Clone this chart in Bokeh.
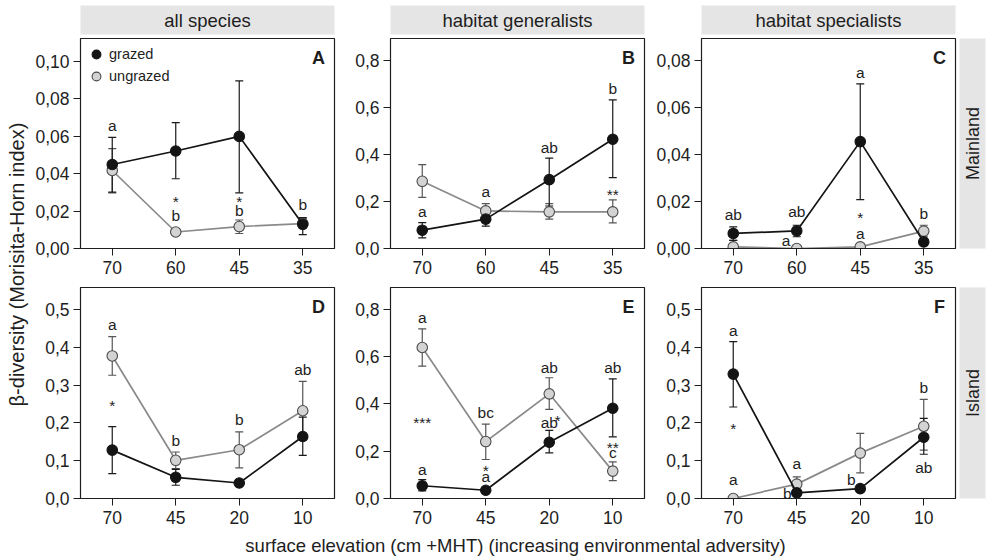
import math
from bokeh.plotting import figure
from bokeh.layouts import row, column
from bokeh.models import (ColumnDataSource, Range1d, FixedTicker, Whisker, TeeHead,
                          Label, Legend, LegendItem)
from bokeh.core.properties import value
from bokeh.embed import file_html
from bokeh.resources import INLINE

FONT = "Liberation Sans"
TXT = "#1e1e1e"
STRIP = "#e5e5e5"

# ---------------- data ----------------
positions = [1, 2, 3, 4]
mainland_elev = ["70", "60", "45", "35"]
island_elev = ["70", "45", "20", "10"]

col_titles = ["all species", "habitat generalists", "habitat specialists"]
row_titles = ["Mainland", "Island"]

# y ticks / labels per panel
A_ticks = [0.0, 0.02, 0.04, 0.06, 0.08, 0.10]
A_tlab = ["0,00", "0,02", "0,04", "0,06", "0,08", "0,10"]
B_ticks = [0.0, 0.2, 0.4, 0.6, 0.8]
B_tlab = ["0,0", "0,2", "0,4", "0,6", "0,8"]
C_ticks = [0.0, 0.02, 0.04, 0.06, 0.08]
C_tlab = ["0,00", "0,02", "0,04", "0,06", "0,08"]
D_ticks = [0.0, 0.1, 0.2, 0.3, 0.4, 0.5]
D_tlab = ["0,0", "0,1", "0,2", "0,3", "0,4", "0,5"]
E_ticks = [0.0, 0.2, 0.4, 0.6, 0.8]
E_tlab = ["0,0", "0,2", "0,4", "0,6", "0,8"]
F_ticks = [0.0, 0.1, 0.2, 0.3, 0.4, 0.5]
F_tlab = ["0,0", "0,1", "0,2", "0,3", "0,4", "0,5"]

# Panel A - all species, mainland
A_g = [0.0448, 0.0520, 0.0598, 0.0129]
A_g_lo = [0.0301, 0.0372, 0.0297, 0.0074]
A_g_hi = [0.0593, 0.0671, 0.0894, 0.0165]
A_u = [0.0416, 0.0088, 0.0117, 0.0133]
A_u_lo = [0.0297, 0.0078, 0.0080, 0.0110]
A_u_hi = [0.0533, 0.0098, 0.0152, 0.0160]
A_ann_x = [1, 2, 2, 3, 3, 4]
A_ann_y = [0.0655, 0.0274, 0.0177, 0.0271, 0.0204, 0.0235]
A_ann_t = ["a", "*", "b", "*", "b", "b"]

# Panel B - habitat generalists, mainland
B_g = [0.078, 0.125, 0.293, 0.465]
B_g_lo = [0.045, 0.095, 0.181, 0.302]
B_g_hi = [0.110, 0.155, 0.385, 0.633]
B_u = [0.286, 0.160, 0.156, 0.156]
B_u_lo = [0.218, 0.127, 0.125, 0.109]
B_u_hi = [0.357, 0.191, 0.191, 0.207]
B_ann_x = [1, 2, 3, 4, 4]
B_ann_y = [0.159, 0.241, 0.432, 0.683, 0.248]
B_ann_t = ["a", "a", "ab", "b", "**"]

# Panel C - habitat specialists, mainland
C_g = [0.0064, 0.0075, 0.0455, 0.0028]
C_g_lo = [0.0035, 0.0050, 0.0208, 0.0015]
C_g_hi = [0.0092, 0.0099, 0.0701, 0.0040]
C_u = [0.0007, 0.0000, 0.0007, 0.0074]
C_u_lo = [0.0000, 0.0000, 0.0000, 0.0050]
C_u_hi = [0.0035, 0.0005, 0.0015, 0.0099]
C_ann_x = [1, 2, 1.83, 3, 3, 3, 4]
C_ann_y = [0.0144, 0.0159, 0.0035, 0.0750, 0.0149, 0.0064, 0.0149]
C_ann_t = ["ab", "ab", "a", "a", "*", "a", "b"]

# Panel D - all species, island
D_g = [0.128, 0.056, 0.041, 0.164]
D_g_lo = [0.066, 0.035, 0.035, 0.114]
D_g_hi = [0.190, 0.077, 0.047, 0.215]
D_u = [0.377, 0.101, 0.129, 0.232]
D_u_lo = [0.326, 0.079, 0.081, 0.154]
D_u_hi = [0.428, 0.123, 0.176, 0.310]
D_ann_x = [1, 1, 2, 3, 4]
D_ann_y = [0.459, 0.256, 0.154, 0.209, 0.340]
D_ann_t = ["a", "*", "b", "b", "ab"]

# Panel E - habitat generalists, island
E_g = [0.054, 0.035, 0.238, 0.382]
E_g_lo = [0.032, 0.025, 0.193, 0.261]
E_g_hi = [0.080, 0.045, 0.288, 0.506]
E_u = [0.639, 0.241, 0.443, 0.116]
E_u_lo = [0.560, 0.165, 0.377, 0.076]
E_u_hi = [0.718, 0.315, 0.511, 0.155]
E_ann_x = [1, 1, 1, 2, 2, 2, 3, 3, 3.13, 4, 4, 4]
E_ann_y = [0.766, 0.339, 0.124, 0.362, 0.135, 0.091, 0.554, 0.320, 0.346, 0.554, 0.233, 0.193]
E_ann_t = ["a", "***", "a", "bc", "*", "a", "ab", "ab", "*", "ab", "**", "c"]

# Panel F - habitat specialists, island
F_g = [0.329, 0.015, 0.026, 0.162]
F_g_lo = [0.242, 0.008, 0.020, 0.117]
F_g_hi = [0.415, 0.022, 0.032, 0.212]
F_u = [0.000, 0.038, 0.120, 0.191]
F_u_lo = [0.000, 0.022, 0.068, 0.128]
F_u_hi = [0.000, 0.057, 0.172, 0.262]
F_ann_x = [1, 1, 1, 2, 1.85, 2.86, 4, 4]
F_ann_y = [0.445, 0.197, 0.051, 0.093, 0.013, 0.049, 0.294, 0.082]
F_ann_t = ["a", "*", "a", "a", "b", "b", "b", "ab"]

y_tops = {"A": 0.112, "B": 0.894, "C": 0.0894, "D": 0.558, "E": 0.893, "F": 0.558}

# ---------------- layout geometry ----------------
FW = 254
COL_BORDERS = [(50, 16), (40, 9), (48, 2)]
ROW1 = dict(top=1, h=210, bottom=35)
ROW2 = dict(top=4, h=211, bottom=34)
XLAB_H = 560 - (37 + 1 + 210 + 35 + 4 + 211 + 34)


def style_axis(ax):
    ax.major_tick_out = 7
    ax.major_tick_in = 0
    ax.minor_tick_out = 0
    ax.minor_tick_in = 0
    ax.axis_line_color = TXT
    ax.major_tick_line_color = TXT
    ax.major_label_text_font = FONT
    ax.major_label_text_font_size = "17.5px"
    ax.major_label_text_color = TXT
    ax.major_label_standoff = 5


def make_panel(letter, col, rowgeom, xlabels, yticks, ylabels,
               g, glo, ghi, u, ulo, uhi, ax_, ay_, at_, legend=False):
    left, right = COL_BORDERS[col]
    ytop = y_tops[letter]
    p = figure(frame_width=FW, frame_height=rowgeom["h"],
               min_border_left=left, min_border_right=right,
               min_border_top=rowgeom["top"], min_border_bottom=rowgeom["bottom"],
               x_range=Range1d(0.5, 4.5), y_range=Range1d(0, ytop),
               toolbar_location=None, output_backend="svg")
    p.xgrid.visible = False
    p.ygrid.visible = False
    p.outline_line_color = TXT
    p.outline_line_width = 1.2
    p.background_fill_color = "white"
    p.border_fill_color = "white"

    p.xaxis.ticker = FixedTicker(ticks=positions)
    p.xaxis.major_label_overrides = {k: v for k, v in zip(positions, xlabels)}
    p.yaxis.ticker = FixedTicker(ticks=yticks)
    p.yaxis.major_label_overrides = {k: v for k, v in zip(yticks, ylabels)}
    style_axis(p.xaxis[0])
    style_axis(p.yaxis[0])
    p.yaxis[0].major_label_standoff = 4

    su = ColumnDataSource(dict(x=positions, y=u, lo=ulo, hi=uhi))
    sg = ColumnDataSource(dict(x=positions, y=g, lo=glo, hi=ghi))

    for src, col_ in ((su, "#555555"), (sg, "#1a1a1a")):
        w = Whisker(source=src, base="x", upper="hi", lower="lo",
                    line_color=col_, line_width=1.2, level="underlay")
        w.upper_head = TeeHead(size=8, line_color=col_, line_width=1.2)
        w.lower_head = TeeHead(size=8, line_color=col_, line_width=1.2)
        p.add_layout(w)

    p.line("x", "y", source=su, line_color="#8a8a8a", line_width=1.7)
    ru = p.scatter("x", "y", source=su, size=10.5, fill_color="#d3d3d3",
                   line_color="#4a4a4a", line_width=1.1)
    p.line("x", "y", source=sg, line_color="#141414", line_width=1.7)
    rg = p.scatter("x", "y", source=sg, size=10.5, fill_color="#141414",
                   line_color="#141414", line_width=1.1)

    # significance / group letters
    letters = [(x, y, t) for x, y, t in zip(ax_, ay_, at_) if set(t) != {"*"}]
    stars = [(x, y, t) for x, y, t in zip(ax_, ay_, at_) if set(t) == {"*"}]
    if letters:
        sl = ColumnDataSource(dict(x=[a[0] for a in letters], y=[a[1] for a in letters],
                                   t=[a[2] for a in letters]))
        p.text("x", "y", text="t", source=sl, text_align="center", text_baseline="middle",
               text_font=value(FONT), text_font_size="15.5px", text_color=TXT)
    if stars:
        ss = ColumnDataSource(dict(x=[a[0] for a in stars], y=[a[1] for a in stars],
                                   t=[a[2] for a in stars]))
        p.text("x", "y", text="t", source=ss, text_align="center", text_baseline="middle",
               text_font=value(FONT), text_font_size="15.5px", text_color=TXT, y_offset=4)

    # panel letter (top right corner)
    px_per_x = FW / 4.0
    p.add_layout(Label(x=4.5 - 16 / px_per_x, y=ytop * (1 - 19 / rowgeom["h"]), text=letter,
                       text_align="center", text_baseline="middle", text_font=FONT,
                       text_font_size="18px", text_font_style="bold", text_color=TXT))

    if legend:
        lg = Legend(items=[LegendItem(label="grazed", renderers=[rg]),
                           LegendItem(label="ungrazed", renderers=[ru])],
                    location="top_left", border_line_color=None, background_fill_alpha=0,
                    label_text_font=FONT, label_text_font_size="14.5px", label_text_color=TXT,
                    glyph_width=22, glyph_height=22, label_height=17, label_standoff=2,
                    spacing=-5, padding=1, margin=5)
        p.add_layout(lg)
    return p


def blank(**kw):
    p = figure(x_axis_type=None, y_axis_type=None, toolbar_location=None,
               output_backend="svg", x_range=Range1d(0, 1), y_range=Range1d(0, 1),
               outline_line_color=None, **kw)
    p.xgrid.visible = False
    p.ygrid.visible = False
    return p


def header(col, text):
    left, right = COL_BORDERS[col]
    if col == 2:
        right += 30
    p = blank(frame_width=FW, frame_height=29, min_border_left=left, min_border_right=right,
              min_border_top=5, min_border_bottom=3, background_fill_color=STRIP)
    p.add_layout(Label(x=0.5, y=0.5, text=text, text_align="center", text_baseline="middle",
                       text_font=FONT, text_font_size="18.5px", text_color=TXT))
    return p


def side_strip(rowgeom, text):
    p = blank(frame_width=26, frame_height=rowgeom["h"], min_border_left=2, min_border_right=2,
              min_border_top=rowgeom["top"], min_border_bottom=rowgeom["bottom"],
              background_fill_color=STRIP)
    p.add_layout(Label(x=0.5, y=0.5, text=text, angle=math.pi / 2, text_align="center",
                       text_baseline="middle", text_font=FONT, text_font_size="18px",
                       text_color=TXT))
    return p


pA = make_panel("A", 0, ROW1, mainland_elev, A_ticks, A_tlab, A_g, A_g_lo, A_g_hi,
                A_u, A_u_lo, A_u_hi, A_ann_x, A_ann_y, A_ann_t, legend=True)
pB = make_panel("B", 1, ROW1, mainland_elev, B_ticks, B_tlab, B_g, B_g_lo, B_g_hi,
                B_u, B_u_lo, B_u_hi, B_ann_x, B_ann_y, B_ann_t)
pC = make_panel("C", 2, ROW1, mainland_elev, C_ticks, C_tlab, C_g, C_g_lo, C_g_hi,
                C_u, C_u_lo, C_u_hi, C_ann_x, C_ann_y, C_ann_t)
pD = make_panel("D", 0, ROW2, island_elev, D_ticks, D_tlab, D_g, D_g_lo, D_g_hi,
                D_u, D_u_lo, D_u_hi, D_ann_x, D_ann_y, D_ann_t)
pE = make_panel("E", 1, ROW2, island_elev, E_ticks, E_tlab, E_g, E_g_lo, E_g_hi,
                E_u, E_u_lo, E_u_hi, E_ann_x, E_ann_y, E_ann_t)
pF = make_panel("F", 2, ROW2, island_elev, F_ticks, F_tlab, F_g, F_g_lo, F_g_hi,
                F_u, F_u_lo, F_u_hi, F_ann_x, F_ann_y, F_ann_t)

h1, h2, h3 = (header(i, t) for i, t in enumerate(col_titles))
s1 = side_strip(ROW1, row_titles[0])
s2 = side_strip(ROW2, row_titles[1])

ylab = blank(width=30, height=560, min_border=0)
ylab.y_range = Range1d(0, 560)
ylab.add_layout(Label(x=0.55, y=560 - 264, text="β-diversity (Morisita-Horn index)",
                      angle=math.pi / 2, text_align="center", text_baseline="middle",
                      text_font=FONT, text_font_size="20px", text_color=TXT))

xlab = blank(width=957, height=XLAB_H, min_border=0)
xlab.x_range = Range1d(0, 957)
xlab.y_range = Range1d(0, XLAB_H)
xlab.add_layout(Label(x=485, y=XLAB_H - 13, text="surface elevation (cm +MHT) (increasing environmental adversity)",
                      text_align="center", text_baseline="middle", text_font=FONT,
                      text_font_size="18.5px", text_color=TXT))

layout = row(ylab, column(row(h1, h2, h3), row(pA, pB, pC, s1), row(pD, pE, pF, s2), xlab))

open("out.html", "w").write(file_html(layout, INLINE))
